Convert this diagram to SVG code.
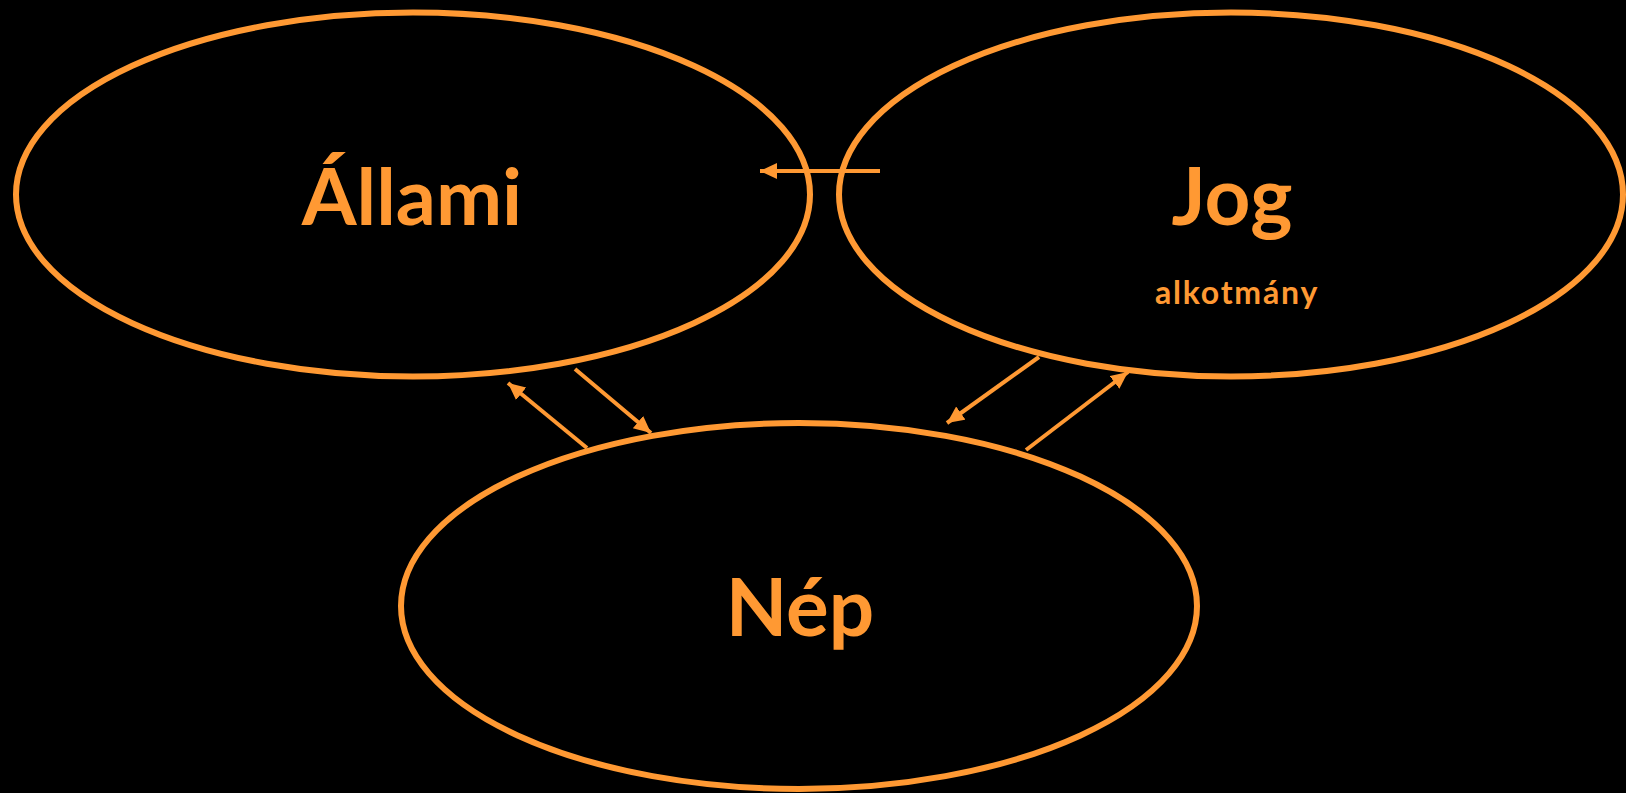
<svg xmlns="http://www.w3.org/2000/svg" width="1626" height="793" viewBox="0 0 1626 793">
<style>
.node{fill:none;stroke:#FF9933;stroke-width:6}
.lbl{fill:#FF9933;font-family:Lato,"Open Sans","Liberation Sans",sans-serif;font-weight:bold;text-anchor:middle}
.con{stroke:#FF9933;stroke-width:4;fill:none;marker-end:url(#ah)}
</style>
<defs>
<marker id="ah" markerUnits="userSpaceOnUse" markerWidth="20" markerHeight="18" refX="17" refY="8" orient="auto">
<path d="M0,0 L17,8 L0,16 Z" fill="#FF9933"/>
</marker>
</defs>
<rect width="1626" height="793" fill="#000"/>
<g id="allami">
<ellipse class="node" cx="413" cy="194.5" rx="397" ry="182"/>
<text class="lbl" x="412" y="225" font-size="79">Állami</text>
</g>
<g id="jog">
<ellipse class="node" cx="1231" cy="194.5" rx="392" ry="182"/>
<text class="lbl" x="1232" y="225" font-size="80">Jog</text>
<text class="lbl" x="1237" y="304" font-size="32" letter-spacing="1.8">alkotmány</text>
</g>
<g id="nep">
<ellipse class="node" cx="799" cy="606" rx="398" ry="183"/>
<text class="lbl" x="800" y="636" font-size="80">Nép</text>
</g>
<g id="connectors">
<line class="con" x1="880" y1="171" x2="760" y2="171"/>
<line class="con" x1="587" y1="448" x2="508" y2="383"/>
<line class="con" x1="575" y1="369" x2="651" y2="433"/>
<line class="con" x1="1039" y1="357" x2="947" y2="423"/>
<line class="con" x1="1026" y1="450" x2="1128" y2="372"/>
</g>
</svg>
